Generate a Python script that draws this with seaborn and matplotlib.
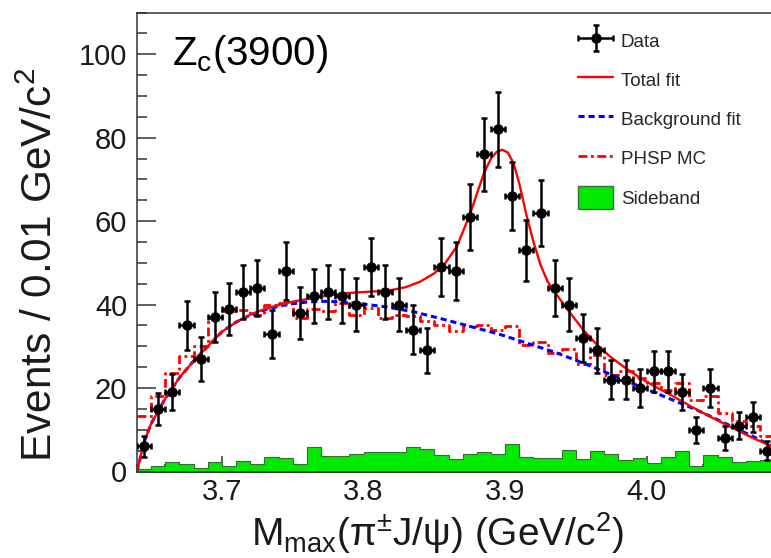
import numpy as np
import pandas as pd
import matplotlib
matplotlib.use("Agg")
import matplotlib.pyplot as plt
import seaborn as sns
from matplotlib.ticker import MultipleLocator
from matplotlib.lines import Line2D
from matplotlib.patches import Patch
from matplotlib.legend_handler import HandlerErrorbar

# ---------------- data ----------------
x_low = 3.64          # lower edge of first bin
bin_w = 0.01          # GeV/c^2 per bin
n_bins = 45

data_counts = [6, 15, 19, 35, 27, 37, 39, 43, 44, 33, 48, 38, 42, 43, 42,
               40, 49, 43, 40, 34, 29, 49, 48, 61, 76, 82, 66, 53, 62,
               44, 40, 32, 29, 22, 22, 20, 24, 24, 19, 10, 20, 8, 11, 13, 5]

sideband = [0.5, 1.2, 2.2, 1.8, 0.8, 2.2, 1.2, 2.4, 1.8, 3.4, 3.2, 1.8, 5.8, 3.7, 3.6,
            4.2, 4.7, 4.7, 4.7, 5.9, 5.4, 3.9, 2.9, 4.1, 4.6, 4.2, 6.6, 3.4, 3.2, 3.2,
            5.1, 2.9, 4.9, 4.1, 2.8, 3.2, 2.0, 3.4, 4.8, 1.3, 4.0, 3.4, 2.3, 2.5, 2.8]

phsp_mc = [13.4, 18.0, 23.6, 27.6, 30.0, 36.8, 38.4, 38.8, 37.6, 40.0, 40.4, 36.8, 39.0, 38.4, 40.4,
           37.6, 39.2, 36.8, 37.4, 37.2, 36.0, 35.2, 33.6, 34.8, 35.2, 33.8, 34.8, 30.4, 31.0, 28.4,
           29.4, 25.8, 28.0, 23.2, 24.0, 22.4, 21.2, 19.6, 21.2, 17.2, 18.0, 14.0, 12.0, 10.8, 8.4]

bkg_x = [3.640, 3.645, 3.650, 3.655, 3.660, 3.665, 3.670, 3.680, 3.690, 3.700, 3.710, 3.720,
         3.730, 3.740, 3.750, 3.760, 3.770, 3.780, 3.790, 3.800, 3.815, 3.835, 3.855, 3.875,
         3.895, 3.915, 3.935, 3.955, 3.975, 3.995, 4.015, 4.035, 4.055, 4.075, 4.090]
bkg_y = [0.0, 7.0, 11.5, 14.5, 17.5, 20.0, 22.5, 26.5, 30.0, 33.5, 35.8, 37.5,
         38.7, 39.6, 40.2, 40.6, 40.8, 40.7, 40.5, 40.1, 39.5, 38.3, 36.6, 34.8,
         33.0, 30.8, 28.6, 26.0, 23.2, 20.4, 17.6, 14.8, 11.6, 8.4, 5.8]

tot_x = [3.640, 3.645, 3.650, 3.655, 3.660, 3.665, 3.670, 3.680, 3.690, 3.700, 3.710, 3.720,
         3.730, 3.740, 3.750, 3.760, 3.770, 3.780, 3.790, 3.800, 3.810, 3.820, 3.830, 3.840,
         3.850, 3.857, 3.866, 3.875, 3.880, 3.885, 3.890, 3.894, 3.898, 3.902, 3.906, 3.910,
         3.915, 3.920, 3.925, 3.930, 3.935, 3.945, 3.955, 3.965, 3.975, 3.985, 3.995, 4.005,
         4.015, 4.025, 4.035, 4.045, 4.055, 4.065, 4.075, 4.090]
tot_y = [0.0, 7.0, 11.5, 14.5, 17.5, 20.0, 22.5, 26.5, 30.0, 33.5, 35.8, 37.6,
         38.9, 39.9, 40.7, 41.3, 41.9, 42.4, 42.8, 43.0, 43.2, 43.5, 44.2, 45.5,
         47.5, 49.6, 54.0, 61.5, 66.5, 71.5, 75.0, 76.6, 77.1, 76.4, 73.8, 69.0,
         61.5, 55.0, 49.5, 45.5, 43.0, 38.4, 34.0, 30.3, 27.3, 24.8, 22.5, 20.5,
         18.7, 16.8, 14.9, 13.1, 11.4, 9.7, 8.0, 5.8]

x_ticks = [3.7, 3.8, 3.9, 4.0]
x_tick_labels = ["3.7", "3.8", "3.9", "4.0"]
y_ticks = [0, 20, 40, 60, 80, 100]

# ---------------- derived tables ----------------
x_high = x_low + bin_w * n_bins
centers = x_low + bin_w * (np.arange(n_bins) + 0.5)
hist_df = pd.DataFrame({"x": centers, "data": data_counts,
                        "sideband": sideband, "phsp": phsp_mc})
bkg_df = pd.DataFrame({"x": bkg_x, "y": bkg_y})
tot_df = pd.DataFrame({"x": tot_x, "y": tot_y})

# ---------------- style ----------------
sns.set_style("white")
plt.rcParams["font.family"] = ["Liberation Sans", "DejaVu Sans"]
plt.rcParams["mathtext.fontset"] = "custom"
plt.rcParams["mathtext.rm"] = "Liberation Sans"
plt.rcParams["mathtext.it"] = "Liberation Sans:italic"
plt.rcParams["mathtext.bf"] = "Liberation Sans:bold"

fig = plt.figure(figsize=(7.71, 5.58), dpi=100)
ax = fig.add_axes([137 / 771, (558 - 471.5) / 558, (774.2 - 137) / 771, (471.5 - 12.5) / 558])

green = "#00ea00"
# sideband histogram
sns.histplot(data=hist_df, x="x", weights="sideband", binwidth=bin_w,
             binrange=(x_low, x_high), element="step",
             fill=True, color=green, edgecolor="#3a6a3a", linewidth=0.8, alpha=1,
             ax=ax, zorder=1)
# PHSP MC histogram (dash-dot)
dashdot = (0, (3.2, 1.3, 1.0, 1.3))
sns.histplot(data=hist_df, x="x", weights="phsp", binwidth=bin_w,
             binrange=(x_low, x_high), element="step",
             fill=False, color="#ff0000", linewidth=2.0, linestyle=dashdot,
             ax=ax, zorder=2)
# background fit
dashed = (0, (2.0, 1.3))
sns.lineplot(data=bkg_df, x="x", y="y", color="#0000ff", linewidth=2.2,
             linestyle=dashed, ax=ax, zorder=3, errorbar=None)
# total fit
sns.lineplot(data=tot_df, x="x", y="y", color="#ff0000", linewidth=1.7,
             ax=ax, zorder=4, errorbar=None)
# data points
cont = ax.errorbar(hist_df["x"], hist_df["data"], yerr=np.sqrt(hist_df["data"]),
                   xerr=bin_w / 2, fmt="o", color="black", ms=6.5, elinewidth=1.8,
                   capsize=2.5, capthick=1.8, zorder=5)

ax.set_xlim(x_low, x_high)
ax.set_ylim(0, 110)

# ticks, ROOT style
ax.set_xticks(x_ticks)
ax.set_xticklabels(x_tick_labels)
ax.set_yticks(y_ticks)
ax.xaxis.set_minor_locator(MultipleLocator(0.02))
ax.yaxis.set_minor_locator(MultipleLocator(5))
tick_col = "#333333"
ax.tick_params(axis="both", which="both", direction="in", colors=tick_col,
               labelcolor="#1a1a1a", labelsize=21,
               bottom=True, left=True, top=False, right=False)
ax.tick_params(axis="x", which="major", length=11.5, width=1.1, pad=5)
ax.tick_params(axis="x", which="minor", length=6, width=1.1)
ax.tick_params(axis="y", which="major", length=14, width=1.1, pad=7)
ax.tick_params(axis="y", which="minor", length=7, width=1.1)
for s in ["left", "bottom", "top"]:
    ax.spines[s].set_color(tick_col)
    ax.spines[s].set_linewidth(1.1)
ax.spines["right"].set_visible(False)

ax.set_xlabel(r"M$_{\mathrm{max}}$(π$^{\pm}$J/ψ) (GeV/c$^{2}$)", fontsize=28, color="#1a1a1a")
ax.set_ylabel(r"Events / 0.01 GeV/c$^{2}$", fontsize=30.5, color="#1a1a1a")
ax.xaxis.set_label_coords(0.471, -0.085)
ax.yaxis.set_label_coords(-0.12, 0.45)

ax.text(0.0545, 0.8856, r"Z$_{\mathrm{c}}$(3900)", transform=ax.transAxes,
        fontsize=29, va="baseline", ha="left", color="black")

# legend
h_tot = Line2D([], [], color="#ff0000", lw=1.7)
h_bkg = Line2D([], [], color="#0000ff", lw=2.2, linestyle=dashed)
h_phsp = Line2D([], [], color="#ff0000", lw=2.0, linestyle=dashdot)
h_sb = Patch(facecolor=green, edgecolor="#3a6a3a", linewidth=1.0)
leg = ax.legend([cont, h_tot, h_bkg, h_phsp, h_sb],
                ["Data", "Total fit", "Background fit", "PHSP MC", "Sideband"],
                loc="upper left", bbox_to_anchor=(0.68, 0.98), frameon=False,
                fontsize=13.5, handlelength=1.9, handleheight=1.5, labelspacing=0.87,
                handletextpad=0.4, borderaxespad=0,
                handler_map={type(cont): HandlerErrorbar(xerr_size=0.95, yerr_size=0.7)})

fig.savefig("out.png", dpi=100)
